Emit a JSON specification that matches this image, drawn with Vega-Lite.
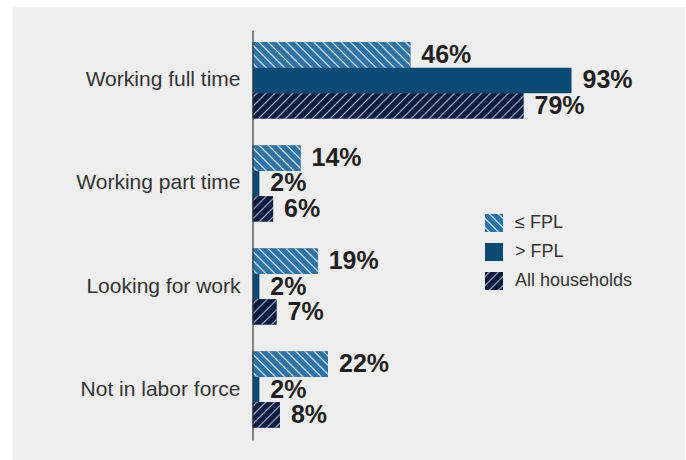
{
  "$schema": "https://vega.github.io/schema/vega-lite/v6.json",
  "width": 672,
  "height": 453,
  "autosize": {"type": "none"},
  "padding": {"left": 13, "top": 7, "right": 1, "bottom": 0},
  "background": "#ffffff",
  "config": {"view": {"fill": "#eeeeee", "stroke": null}, "font": "Liberation Sans"},
  "data": {"values": [
    {"status": "Working full time", "group": "≤ FPL", "pct": 0.46},
    {"status": "Working full time", "group": "> FPL", "pct": 0.93},
    {"status": "Working full time", "group": "All households", "pct": 0.79},
    {"status": "Working part time", "group": "≤ FPL", "pct": 0.14},
    {"status": "Working part time", "group": "> FPL", "pct": 0.02},
    {"status": "Working part time", "group": "All households", "pct": 0.06},
    {"status": "Looking for work", "group": "≤ FPL", "pct": 0.19},
    {"status": "Looking for work", "group": "> FPL", "pct": 0.02},
    {"status": "Looking for work", "group": "All households", "pct": 0.07},
    {"status": "Not in labor force", "group": "≤ FPL", "pct": 0.22},
    {"status": "Not in labor force", "group": "> FPL", "pct": 0.02},
    {"status": "Not in labor force", "group": "All households", "pct": 0.08}
  ]},
  "encoding": {
    "y": {"field": "status", "type": "nominal",
      "sort": ["Working full time", "Working part time", "Looking for work", "Not in labor force"],
      "scale": {"range": [23, 433], "paddingInner": 0.26, "paddingOuter": 0.12},
      "axis": {"title": null, "orient": "left", "offset": -239.5, "ticks": false, "tickSize": 0, "labelPadding": 12.5,
        "labelFontSize": 21, "labelColor": "#333333", "labelFont": "Liberation Sans", "labelLimit": 400,
        "domainColor": "#3a3a3a", "domainWidth": 1.2, "grid": false, "zindex": 1}},
    "yOffset": {"field": "group", "type": "nominal",
      "scale": {"domain": ["≤ FPL", "> FPL", "All households"], "paddingInner": 0, "paddingOuter": 0}},
    "x": {"field": "pct", "type": "quantitative", "scale": {"domain": [-0.6983, 1.2609], "nice": false, "zero": false}, "axis": null}
  },
  "layer": [
    {
      "mark": {"type": "bar", "fill": "#0b4a74", "strokeWidth": 0},
      "encoding": {
        "stroke": {"field": "group", "type": "nominal",
          "scale": {"domain": ["≤ FPL", "> FPL", "All households"], "range": ["#2e73a5", "#0b4a74", "#0c1b3f"]},
          "legend": {"orient": "none", "legendX": 472, "legendY": 207, "title": null, "symbolType": "square", "symbolSize": 324,
            "symbolStrokeWidth": 0, "labelFontSize": 18, "labelColor": "#333333", "labelFont": "Liberation Sans", "labelOffset": 12,
            "rowPadding": 11, "padding": 0, "symbolOpacity": 1,
            "encoding": {"symbols": {"fill": {"condition": [
              {"test": "datum.value === '≤ FPL'", "value": {"gradient": "linear", "x1": 0, "y1": 1, "x2": 1, "y2": 0, "stops": [
                {"offset": 0.0806, "color": "#2e73a5"}, {"offset": 0.125, "color": "#e8eff6"}, {"offset": 0.1694, "color": "#2e73a5"},
                {"offset": 0.3306, "color": "#2e73a5"}, {"offset": 0.375, "color": "#e8eff6"}, {"offset": 0.4194, "color": "#2e73a5"},
                {"offset": 0.5806, "color": "#2e73a5"}, {"offset": 0.625, "color": "#e8eff6"}, {"offset": 0.6694, "color": "#2e73a5"},
                {"offset": 0.8306, "color": "#2e73a5"}, {"offset": 0.875, "color": "#e8eff6"}, {"offset": 0.9194, "color": "#2e73a5"}]}},
              {"test": "datum.value === 'All households'", "value": {"gradient": "linear", "x1": 0, "y1": 0, "x2": 1, "y2": 1, "stops": [
                {"offset": 0.0806, "color": "#0c1b3f"}, {"offset": 0.125, "color": "#a3b5cd"}, {"offset": 0.1694, "color": "#0c1b3f"},
                {"offset": 0.3306, "color": "#0c1b3f"}, {"offset": 0.375, "color": "#a3b5cd"}, {"offset": 0.4194, "color": "#0c1b3f"},
                {"offset": 0.5806, "color": "#0c1b3f"}, {"offset": 0.625, "color": "#a3b5cd"}, {"offset": 0.6694, "color": "#0c1b3f"},
                {"offset": 0.8306, "color": "#0c1b3f"}, {"offset": 0.875, "color": "#a3b5cd"}, {"offset": 0.9194, "color": "#0c1b3f"}]}}],
              "value": "#0b4a74"}}}
          }
        }
      }
    },
    {
      "transform": [{"filter": "datum.status === 'Working full time' && datum.group === '≤ FPL'"}],
      "mark": {"type": "bar", "fill": {"gradient": "linear", "x1": 0, "y1": 1, "x2": 1.1317, "y2": 0.8177, "stops": [
        {"offset": 0.0163, "color": "#2e73a5"}, {"offset": 0.025, "color": "#e8eff6"}, {"offset": 0.0337, "color": "#2e73a5"},
        {"offset": 0.0663, "color": "#2e73a5"}, {"offset": 0.075, "color": "#e8eff6"}, {"offset": 0.0837, "color": "#2e73a5"},
        {"offset": 0.1163, "color": "#2e73a5"}, {"offset": 0.125, "color": "#e8eff6"}, {"offset": 0.1337, "color": "#2e73a5"},
        {"offset": 0.1663, "color": "#2e73a5"}, {"offset": 0.175, "color": "#e8eff6"}, {"offset": 0.1837, "color": "#2e73a5"},
        {"offset": 0.2163, "color": "#2e73a5"}, {"offset": 0.225, "color": "#e8eff6"}, {"offset": 0.2337, "color": "#2e73a5"},
        {"offset": 0.2663, "color": "#2e73a5"}, {"offset": 0.275, "color": "#e8eff6"}, {"offset": 0.2837, "color": "#2e73a5"},
        {"offset": 0.3163, "color": "#2e73a5"}, {"offset": 0.325, "color": "#e8eff6"}, {"offset": 0.3337, "color": "#2e73a5"},
        {"offset": 0.3663, "color": "#2e73a5"}, {"offset": 0.375, "color": "#e8eff6"}, {"offset": 0.3837, "color": "#2e73a5"},
        {"offset": 0.4163, "color": "#2e73a5"}, {"offset": 0.425, "color": "#e8eff6"}, {"offset": 0.4337, "color": "#2e73a5"},
        {"offset": 0.4663, "color": "#2e73a5"}, {"offset": 0.475, "color": "#e8eff6"}, {"offset": 0.4837, "color": "#2e73a5"},
        {"offset": 0.5163, "color": "#2e73a5"}, {"offset": 0.525, "color": "#e8eff6"}, {"offset": 0.5337, "color": "#2e73a5"},
        {"offset": 0.5663, "color": "#2e73a5"}, {"offset": 0.575, "color": "#e8eff6"}, {"offset": 0.5837, "color": "#2e73a5"},
        {"offset": 0.6163, "color": "#2e73a5"}, {"offset": 0.625, "color": "#e8eff6"}, {"offset": 0.6337, "color": "#2e73a5"},
        {"offset": 0.6663, "color": "#2e73a5"}, {"offset": 0.675, "color": "#e8eff6"}, {"offset": 0.6837, "color": "#2e73a5"},
        {"offset": 0.7163, "color": "#2e73a5"}, {"offset": 0.725, "color": "#e8eff6"}, {"offset": 0.7337, "color": "#2e73a5"},
        {"offset": 0.7663, "color": "#2e73a5"}, {"offset": 0.775, "color": "#e8eff6"}, {"offset": 0.7837, "color": "#2e73a5"},
        {"offset": 0.8163, "color": "#2e73a5"}, {"offset": 0.825, "color": "#e8eff6"}, {"offset": 0.8337, "color": "#2e73a5"},
        {"offset": 0.8663, "color": "#2e73a5"}, {"offset": 0.875, "color": "#e8eff6"}, {"offset": 0.8837, "color": "#2e73a5"},
        {"offset": 0.9163, "color": "#2e73a5"}, {"offset": 0.925, "color": "#e8eff6"}, {"offset": 0.9337, "color": "#2e73a5"},
        {"offset": 0.9663, "color": "#2e73a5"}, {"offset": 0.975, "color": "#e8eff6"}, {"offset": 0.9837, "color": "#2e73a5"}]}}
    },
    {
      "transform": [{"filter": "datum.status === 'Working part time' && datum.group === '≤ FPL'"}],
      "mark": {"type": "bar", "fill": {"gradient": "linear", "x1": 0, "y1": 1, "x2": 1.1947, "y2": 0.3679, "stops": [
        {"offset": 0.0407, "color": "#2e73a5"}, {"offset": 0.0625, "color": "#e8eff6"}, {"offset": 0.0843, "color": "#2e73a5"},
        {"offset": 0.1657, "color": "#2e73a5"}, {"offset": 0.1875, "color": "#e8eff6"}, {"offset": 0.2093, "color": "#2e73a5"},
        {"offset": 0.2907, "color": "#2e73a5"}, {"offset": 0.3125, "color": "#e8eff6"}, {"offset": 0.3343, "color": "#2e73a5"},
        {"offset": 0.4157, "color": "#2e73a5"}, {"offset": 0.4375, "color": "#e8eff6"}, {"offset": 0.4593, "color": "#2e73a5"},
        {"offset": 0.5407, "color": "#2e73a5"}, {"offset": 0.5625, "color": "#e8eff6"}, {"offset": 0.5843, "color": "#2e73a5"},
        {"offset": 0.6657, "color": "#2e73a5"}, {"offset": 0.6875, "color": "#e8eff6"}, {"offset": 0.7093, "color": "#2e73a5"},
        {"offset": 0.7907, "color": "#2e73a5"}, {"offset": 0.8125, "color": "#e8eff6"}, {"offset": 0.8343, "color": "#2e73a5"},
        {"offset": 0.9157, "color": "#2e73a5"}, {"offset": 0.9375, "color": "#e8eff6"}, {"offset": 0.9593, "color": "#2e73a5"}]}}
    },
    {
      "transform": [{"filter": "datum.status === 'Looking for work' && datum.group === '≤ FPL'"}],
      "mark": {"type": "bar", "fill": {"gradient": "linear", "x1": 0, "y1": 1, "x2": 1.2065, "y2": 0.5296, "stops": [
        {"offset": 0.0323, "color": "#2e73a5"}, {"offset": 0.05, "color": "#e8eff6"}, {"offset": 0.0677, "color": "#2e73a5"},
        {"offset": 0.1323, "color": "#2e73a5"}, {"offset": 0.15, "color": "#e8eff6"}, {"offset": 0.1677, "color": "#2e73a5"},
        {"offset": 0.2323, "color": "#2e73a5"}, {"offset": 0.25, "color": "#e8eff6"}, {"offset": 0.2677, "color": "#2e73a5"},
        {"offset": 0.3323, "color": "#2e73a5"}, {"offset": 0.35, "color": "#e8eff6"}, {"offset": 0.3677, "color": "#2e73a5"},
        {"offset": 0.4323, "color": "#2e73a5"}, {"offset": 0.45, "color": "#e8eff6"}, {"offset": 0.4677, "color": "#2e73a5"},
        {"offset": 0.5323, "color": "#2e73a5"}, {"offset": 0.55, "color": "#e8eff6"}, {"offset": 0.5677, "color": "#2e73a5"},
        {"offset": 0.6323, "color": "#2e73a5"}, {"offset": 0.65, "color": "#e8eff6"}, {"offset": 0.6677, "color": "#2e73a5"},
        {"offset": 0.7323, "color": "#2e73a5"}, {"offset": 0.75, "color": "#e8eff6"}, {"offset": 0.7677, "color": "#2e73a5"},
        {"offset": 0.8323, "color": "#2e73a5"}, {"offset": 0.85, "color": "#e8eff6"}, {"offset": 0.8677, "color": "#2e73a5"},
        {"offset": 0.9323, "color": "#2e73a5"}, {"offset": 0.95, "color": "#e8eff6"}, {"offset": 0.9677, "color": "#2e73a5"}]}}
    },
    {
      "transform": [{"filter": "datum.status === 'Not in labor force' && datum.group === '≤ FPL'"}],
      "mark": {"type": "bar", "fill": {"gradient": "linear", "x1": 0, "y1": 1, "x2": 1.2006, "y2": 0.5957, "stops": [
        {"offset": 0.0296, "color": "#2e73a5"}, {"offset": 0.0455, "color": "#e8eff6"}, {"offset": 0.0614, "color": "#2e73a5"},
        {"offset": 0.1205, "color": "#2e73a5"}, {"offset": 0.1364, "color": "#e8eff6"}, {"offset": 0.1523, "color": "#2e73a5"},
        {"offset": 0.2114, "color": "#2e73a5"}, {"offset": 0.2273, "color": "#e8eff6"}, {"offset": 0.2432, "color": "#2e73a5"},
        {"offset": 0.3023, "color": "#2e73a5"}, {"offset": 0.3182, "color": "#e8eff6"}, {"offset": 0.3341, "color": "#2e73a5"},
        {"offset": 0.3932, "color": "#2e73a5"}, {"offset": 0.4091, "color": "#e8eff6"}, {"offset": 0.425, "color": "#2e73a5"},
        {"offset": 0.4841, "color": "#2e73a5"}, {"offset": 0.5, "color": "#e8eff6"}, {"offset": 0.5159, "color": "#2e73a5"},
        {"offset": 0.575, "color": "#2e73a5"}, {"offset": 0.5909, "color": "#e8eff6"}, {"offset": 0.6068, "color": "#2e73a5"},
        {"offset": 0.6659, "color": "#2e73a5"}, {"offset": 0.6818, "color": "#e8eff6"}, {"offset": 0.6977, "color": "#2e73a5"},
        {"offset": 0.7568, "color": "#2e73a5"}, {"offset": 0.7727, "color": "#e8eff6"}, {"offset": 0.7886, "color": "#2e73a5"},
        {"offset": 0.8477, "color": "#2e73a5"}, {"offset": 0.8636, "color": "#e8eff6"}, {"offset": 0.8795, "color": "#2e73a5"},
        {"offset": 0.9386, "color": "#2e73a5"}, {"offset": 0.9545, "color": "#e8eff6"}, {"offset": 0.9704, "color": "#2e73a5"}]}}
    },
    {
      "transform": [{"filter": "datum.status === 'Working full time' && datum.group === 'All households'"}],
      "mark": {"type": "bar", "fill": {"gradient": "linear", "x1": 0, "y1": 0, "x2": 1.0842, "y2": 0.1017, "stops": [
        {"offset": 0.0098, "color": "#0c1b3f"}, {"offset": 0.0152, "color": "#a3b5cd"}, {"offset": 0.0206, "color": "#0c1b3f"},
        {"offset": 0.0401, "color": "#0c1b3f"}, {"offset": 0.0455, "color": "#a3b5cd"}, {"offset": 0.0509, "color": "#0c1b3f"},
        {"offset": 0.0704, "color": "#0c1b3f"}, {"offset": 0.0758, "color": "#a3b5cd"}, {"offset": 0.0812, "color": "#0c1b3f"},
        {"offset": 0.1007, "color": "#0c1b3f"}, {"offset": 0.1061, "color": "#a3b5cd"}, {"offset": 0.1115, "color": "#0c1b3f"},
        {"offset": 0.131, "color": "#0c1b3f"}, {"offset": 0.1364, "color": "#a3b5cd"}, {"offset": 0.1418, "color": "#0c1b3f"},
        {"offset": 0.1613, "color": "#0c1b3f"}, {"offset": 0.1667, "color": "#a3b5cd"}, {"offset": 0.1721, "color": "#0c1b3f"},
        {"offset": 0.1916, "color": "#0c1b3f"}, {"offset": 0.197, "color": "#a3b5cd"}, {"offset": 0.2024, "color": "#0c1b3f"},
        {"offset": 0.2219, "color": "#0c1b3f"}, {"offset": 0.2273, "color": "#a3b5cd"}, {"offset": 0.2327, "color": "#0c1b3f"},
        {"offset": 0.2522, "color": "#0c1b3f"}, {"offset": 0.2576, "color": "#a3b5cd"}, {"offset": 0.263, "color": "#0c1b3f"},
        {"offset": 0.2825, "color": "#0c1b3f"}, {"offset": 0.2879, "color": "#a3b5cd"}, {"offset": 0.2933, "color": "#0c1b3f"},
        {"offset": 0.3128, "color": "#0c1b3f"}, {"offset": 0.3182, "color": "#a3b5cd"}, {"offset": 0.3236, "color": "#0c1b3f"},
        {"offset": 0.3431, "color": "#0c1b3f"}, {"offset": 0.3485, "color": "#a3b5cd"}, {"offset": 0.3539, "color": "#0c1b3f"},
        {"offset": 0.3734, "color": "#0c1b3f"}, {"offset": 0.3788, "color": "#a3b5cd"}, {"offset": 0.3842, "color": "#0c1b3f"},
        {"offset": 0.4037, "color": "#0c1b3f"}, {"offset": 0.4091, "color": "#a3b5cd"}, {"offset": 0.4145, "color": "#0c1b3f"},
        {"offset": 0.434, "color": "#0c1b3f"}, {"offset": 0.4394, "color": "#a3b5cd"}, {"offset": 0.4448, "color": "#0c1b3f"},
        {"offset": 0.4643, "color": "#0c1b3f"}, {"offset": 0.4697, "color": "#a3b5cd"}, {"offset": 0.4751, "color": "#0c1b3f"},
        {"offset": 0.4946, "color": "#0c1b3f"}, {"offset": 0.5, "color": "#a3b5cd"}, {"offset": 0.5054, "color": "#0c1b3f"},
        {"offset": 0.5249, "color": "#0c1b3f"}, {"offset": 0.5303, "color": "#a3b5cd"}, {"offset": 0.5357, "color": "#0c1b3f"},
        {"offset": 0.5552, "color": "#0c1b3f"}, {"offset": 0.5606, "color": "#a3b5cd"}, {"offset": 0.566, "color": "#0c1b3f"},
        {"offset": 0.5855, "color": "#0c1b3f"}, {"offset": 0.5909, "color": "#a3b5cd"}, {"offset": 0.5963, "color": "#0c1b3f"},
        {"offset": 0.6158, "color": "#0c1b3f"}, {"offset": 0.6212, "color": "#a3b5cd"}, {"offset": 0.6266, "color": "#0c1b3f"},
        {"offset": 0.6461, "color": "#0c1b3f"}, {"offset": 0.6515, "color": "#a3b5cd"}, {"offset": 0.6569, "color": "#0c1b3f"},
        {"offset": 0.6764, "color": "#0c1b3f"}, {"offset": 0.6818, "color": "#a3b5cd"}, {"offset": 0.6872, "color": "#0c1b3f"},
        {"offset": 0.7067, "color": "#0c1b3f"}, {"offset": 0.7121, "color": "#a3b5cd"}, {"offset": 0.7175, "color": "#0c1b3f"},
        {"offset": 0.737, "color": "#0c1b3f"}, {"offset": 0.7424, "color": "#a3b5cd"}, {"offset": 0.7478, "color": "#0c1b3f"},
        {"offset": 0.7673, "color": "#0c1b3f"}, {"offset": 0.7727, "color": "#a3b5cd"}, {"offset": 0.7781, "color": "#0c1b3f"},
        {"offset": 0.7976, "color": "#0c1b3f"}, {"offset": 0.803, "color": "#a3b5cd"}, {"offset": 0.8084, "color": "#0c1b3f"},
        {"offset": 0.8279, "color": "#0c1b3f"}, {"offset": 0.8333, "color": "#a3b5cd"}, {"offset": 0.8387, "color": "#0c1b3f"},
        {"offset": 0.8582, "color": "#0c1b3f"}, {"offset": 0.8636, "color": "#a3b5cd"}, {"offset": 0.869, "color": "#0c1b3f"},
        {"offset": 0.8885, "color": "#0c1b3f"}, {"offset": 0.8939, "color": "#a3b5cd"}, {"offset": 0.8993, "color": "#0c1b3f"},
        {"offset": 0.9188, "color": "#0c1b3f"}, {"offset": 0.9242, "color": "#a3b5cd"}, {"offset": 0.9296, "color": "#0c1b3f"},
        {"offset": 0.9491, "color": "#0c1b3f"}, {"offset": 0.9545, "color": "#a3b5cd"}, {"offset": 0.9599, "color": "#0c1b3f"},
        {"offset": 0.9794, "color": "#0c1b3f"}, {"offset": 0.9848, "color": "#a3b5cd"}, {"offset": 0.9902, "color": "#0c1b3f"}]}}
    },
    {
      "transform": [{"filter": "datum.status === 'Working part time' && datum.group === 'All households'"}],
      "mark": {"type": "bar", "fill": {"gradient": "linear", "x1": 0, "y1": 0, "x2": 0.8852, "y2": 1.093, "stops": [
        {"offset": 0.0652, "color": "#0c1b3f"}, {"offset": 0.1, "color": "#a3b5cd"}, {"offset": 0.1348, "color": "#0c1b3f"},
        {"offset": 0.2652, "color": "#0c1b3f"}, {"offset": 0.3, "color": "#a3b5cd"}, {"offset": 0.3348, "color": "#0c1b3f"},
        {"offset": 0.4652, "color": "#0c1b3f"}, {"offset": 0.5, "color": "#a3b5cd"}, {"offset": 0.5348, "color": "#0c1b3f"},
        {"offset": 0.6652, "color": "#0c1b3f"}, {"offset": 0.7, "color": "#a3b5cd"}, {"offset": 0.7348, "color": "#0c1b3f"},
        {"offset": 0.8652, "color": "#0c1b3f"}, {"offset": 0.9, "color": "#a3b5cd"}, {"offset": 0.9348, "color": "#0c1b3f"}]}}
    },
    {
      "transform": [{"filter": "datum.status === 'Looking for work' && datum.group === 'All households'"}],
      "mark": {"type": "bar", "fill": {"gradient": "linear", "x1": 0, "y1": 0, "x2": 0.9709, "y2": 1.0275, "stops": [
        {"offset": 0.0676, "color": "#0c1b3f"}, {"offset": 0.1, "color": "#a3b5cd"}, {"offset": 0.1324, "color": "#0c1b3f"},
        {"offset": 0.2676, "color": "#0c1b3f"}, {"offset": 0.3, "color": "#a3b5cd"}, {"offset": 0.3324, "color": "#0c1b3f"},
        {"offset": 0.4676, "color": "#0c1b3f"}, {"offset": 0.5, "color": "#a3b5cd"}, {"offset": 0.5324, "color": "#0c1b3f"},
        {"offset": 0.6676, "color": "#0c1b3f"}, {"offset": 0.7, "color": "#a3b5cd"}, {"offset": 0.7324, "color": "#0c1b3f"},
        {"offset": 0.8676, "color": "#0c1b3f"}, {"offset": 0.9, "color": "#a3b5cd"}, {"offset": 0.9324, "color": "#0c1b3f"}]}}
    },
    {
      "transform": [{"filter": "datum.status === 'Not in labor force' && datum.group === 'All households'"}],
      "mark": {"type": "bar", "fill": {"gradient": "linear", "x1": 0, "y1": 0, "x2": 1.0369, "y2": 0.9602, "stops": [
        {"offset": 0.053, "color": "#0c1b3f"}, {"offset": 0.0833, "color": "#a3b5cd"}, {"offset": 0.1136, "color": "#0c1b3f"},
        {"offset": 0.2197, "color": "#0c1b3f"}, {"offset": 0.25, "color": "#a3b5cd"}, {"offset": 0.2803, "color": "#0c1b3f"},
        {"offset": 0.3864, "color": "#0c1b3f"}, {"offset": 0.4167, "color": "#a3b5cd"}, {"offset": 0.447, "color": "#0c1b3f"},
        {"offset": 0.553, "color": "#0c1b3f"}, {"offset": 0.5833, "color": "#a3b5cd"}, {"offset": 0.6136, "color": "#0c1b3f"},
        {"offset": 0.7197, "color": "#0c1b3f"}, {"offset": 0.75, "color": "#a3b5cd"}, {"offset": 0.7803, "color": "#0c1b3f"},
        {"offset": 0.8864, "color": "#0c1b3f"}, {"offset": 0.9167, "color": "#a3b5cd"}, {"offset": 0.947, "color": "#0c1b3f"}]}}
    },
    {
      "mark": {"type": "text", "align": "left", "baseline": "middle", "dx": 11, "fontSize": 25, "fontWeight": "bold", "color": "#231f20", "font": "Liberation Sans"},
      "encoding": {"text": {"field": "pct", "type": "quantitative", "format": ".0%"}}
    }
  ]
}
